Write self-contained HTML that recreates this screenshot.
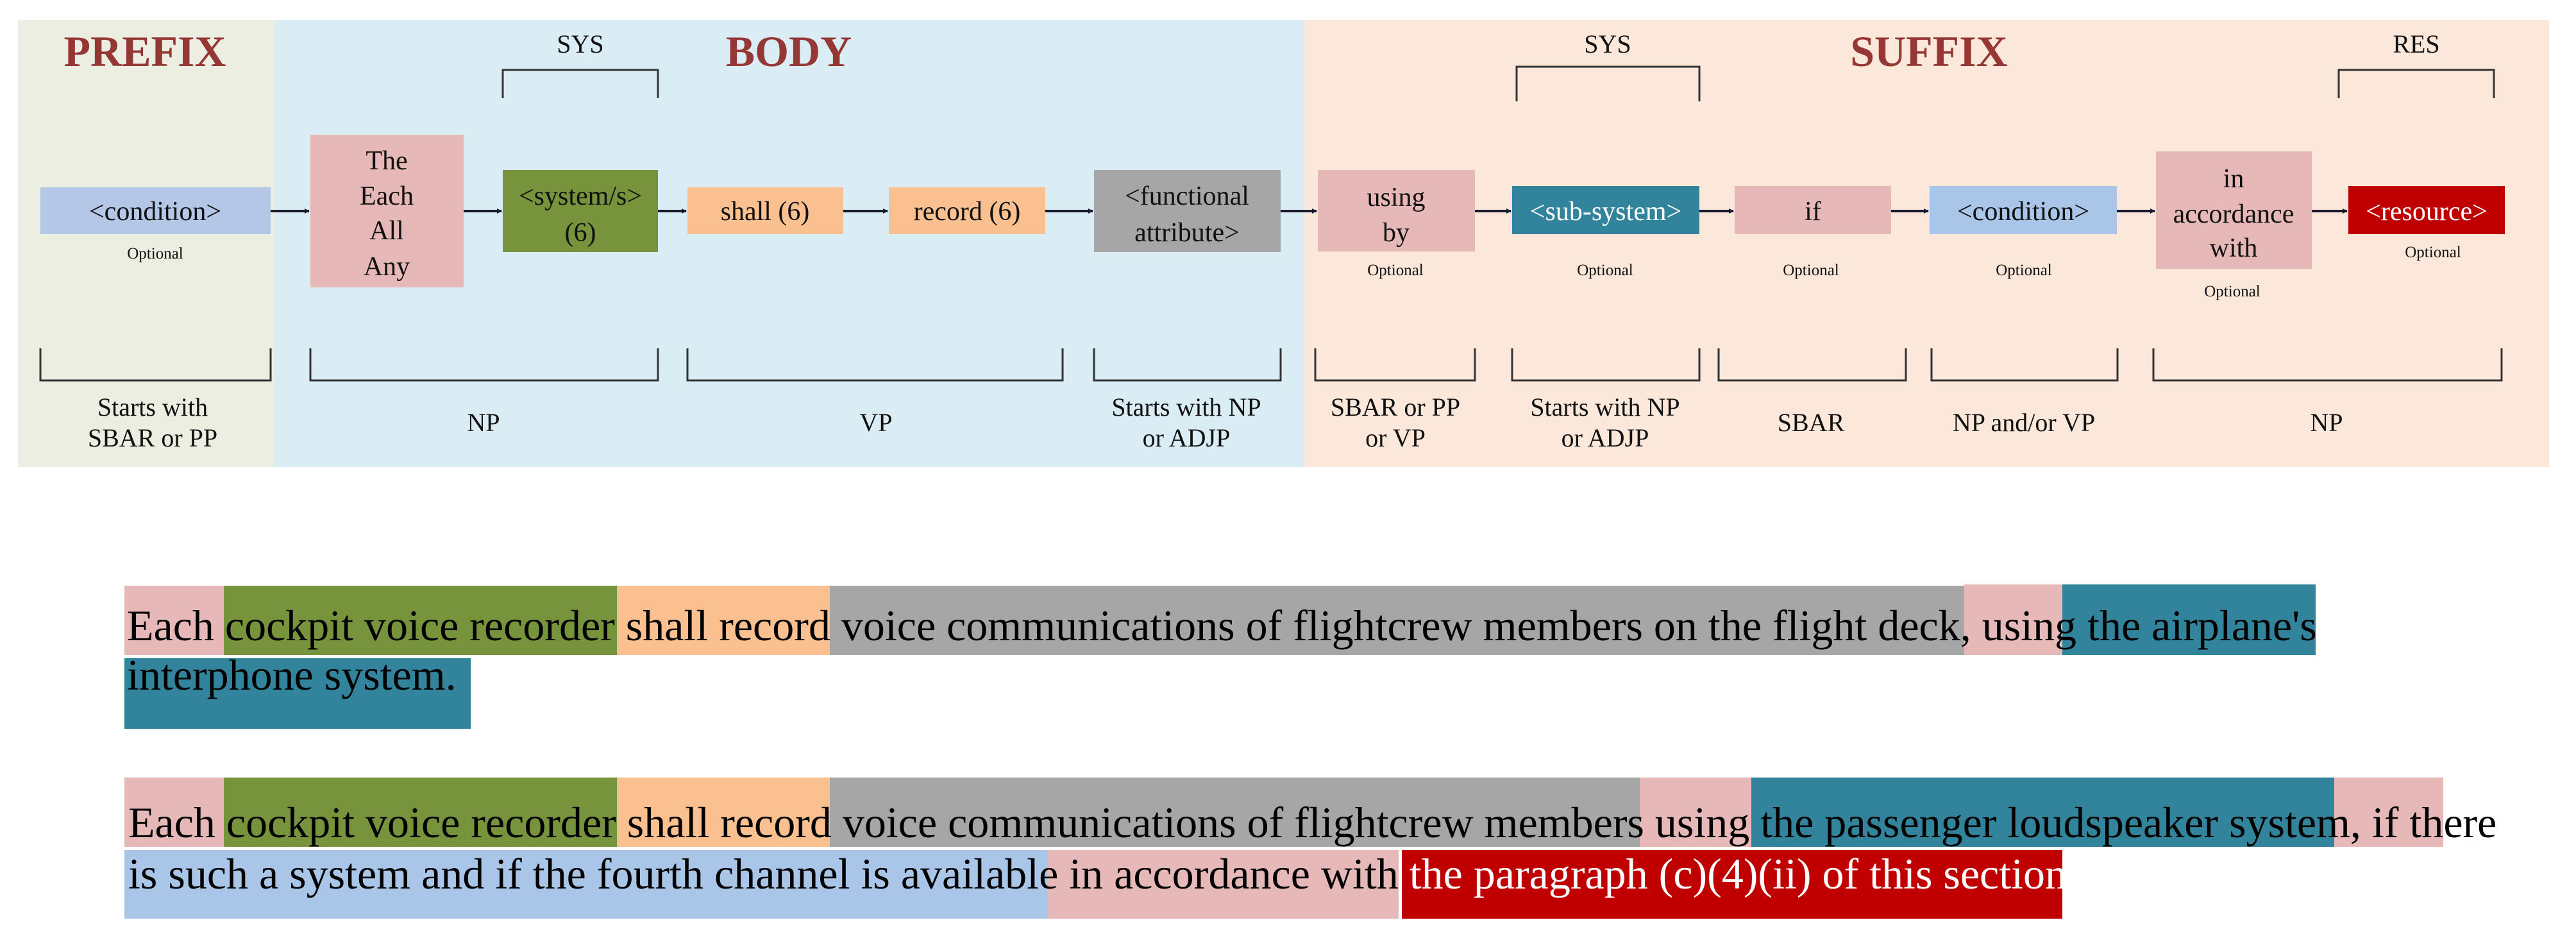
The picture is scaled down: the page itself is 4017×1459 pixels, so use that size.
<!DOCTYPE html>
<html><head><meta charset="utf-8">
<style>
html,body{margin:0;padding:0;background:#fff;width:4017px;height:1459px;overflow:hidden;position:relative;font-family:"Liberation Serif",serif}
.bg{position:absolute}
.t{position:absolute;font-size:68px;line-height:68px;white-space:nowrap;color:#000;font-family:"Liberation Serif",serif}
</style></head><body>
<svg width="4017" height="760" style="position:absolute;left:0;top:0" xmlns="http://www.w3.org/2000/svg" font-family="Liberation Serif, serif">
<defs><marker id="a" markerWidth="8" markerHeight="8" refX="7" refY="4" orient="auto" markerUnits="userSpaceOnUse"><path d="M0,0 L8,4 L0,8 z" fill="#1a1a2e"/></marker></defs>
<rect x="28" y="31" width="400" height="697" fill="#ebeee0"/>
<rect x="428" y="31" width="1606" height="697" fill="#dbedf4"/>
<rect x="2034" y="31" width="1941" height="697" fill="#fce8da"/>
<g font-weight="bold" fill="#953735" font-size="68" text-anchor="middle">
<text x="226" y="103">PREFIX</text><text x="1230" y="103">BODY</text><text x="3008" y="103">SUFFIX</text></g>
<g font-size="40" text-anchor="middle" fill="#111">
<text x="905" y="82">SYS</text><text x="2507" y="82">SYS</text><text x="3768" y="82">RES</text></g>
<g fill="none" stroke="#333" stroke-width="3">
<path d="M784,153 V109 H1026 V153"/><path d="M2365,158 V104 H2650 V158"/><path d="M3647,153 V109 H3889 V153"/>
<path d="M63,543 V593 H422 V543"/><path d="M484,543 V593 H1026 V543"/><path d="M1072,543 V593 H1657 V543"/><path d="M1706,543 V593 H1997 V543"/>
<path d="M2051,543 V593 H2300 V543"/><path d="M2358,543 V593 H2650 V543"/><path d="M2680,543 V593 H2972 V543"/><path d="M3012,543 V593 H3302 V543"/><path d="M3358,543 V593 H3901 V543"/>
</g>
<g stroke="#1a1a2e" stroke-width="4" marker-end="url(#a)">
<line x1="422" y1="329" x2="482" y2="329"/><line x1="723" y1="329" x2="782" y2="329"/><line x1="1026" y1="329" x2="1070" y2="329"/><line x1="1315" y1="329" x2="1384" y2="329"/><line x1="1630" y1="329" x2="1704" y2="329"/><line x1="1997" y1="329" x2="2053" y2="329"/><line x1="2300" y1="329" x2="2356" y2="329"/><line x1="2650" y1="329" x2="2703" y2="329"/><line x1="2949" y1="329" x2="3007" y2="329"/><line x1="3301" y1="329" x2="3360" y2="329"/><line x1="3605" y1="329" x2="3660" y2="329"/>
</g>
<rect x="63" y="292" width="359" height="73" fill="#b4c7e7"/>
<rect x="484" y="210" width="239" height="238" fill="#e6b9b8"/>
<rect x="784" y="265" width="242" height="128" fill="#77933c"/>
<rect x="1072" y="292" width="243" height="73" fill="#fac090"/>
<rect x="1386" y="292" width="244" height="73" fill="#fac090"/>
<rect x="1706" y="265" width="291" height="128" fill="#a6a6a6"/>
<rect x="2055" y="265" width="245" height="127" fill="#e6b9b8"/>
<rect x="2358" y="290" width="292" height="75" fill="#31849b"/>
<rect x="2705" y="290" width="244" height="75" fill="#e6b9b8"/>
<rect x="3009" y="290" width="292" height="75" fill="#a9c6e8"/>
<rect x="3362" y="236" width="243" height="183" fill="#e6b9b8"/>
<rect x="3662" y="290" width="244" height="75" fill="#c00000"/>
<g font-size="42" text-anchor="middle" fill="#111">
<text x="242" y="343">&lt;condition&gt;</text>
<text x="603" y="264">The</text><text x="603" y="319">Each</text><text x="603" y="373">All</text><text x="603" y="429">Any</text>
<text x="905" y="319">&lt;system/s&gt;</text><text x="905" y="376">(6)</text>
<text x="1193" y="343">shall (6)</text><text x="1508" y="343">record (6)</text>
<text x="1851" y="319">&lt;functional</text><text x="1851" y="376">attribute&gt;</text>
<text x="2177" y="321">using</text><text x="2177" y="376">by</text>
<text x="2504" y="343" fill="#fff">&lt;sub-system&gt;</text>
<text x="2827" y="343">if</text>
<text x="3155" y="343">&lt;condition&gt;</text>
<text x="3483" y="292">in</text><text x="3483" y="347">accordance</text><text x="3483" y="400">with</text>
<text x="3784" y="343" fill="#fff">&lt;resource&gt;</text>
</g>
<g font-size="25" text-anchor="middle" fill="#111">
<text x="242" y="403">Optional</text><text x="2176" y="429">Optional</text><text x="2503" y="429">Optional</text><text x="2824" y="429">Optional</text><text x="3156" y="429">Optional</text><text x="3481" y="462">Optional</text><text x="3794" y="401">Optional</text>
</g>
<g font-size="40" text-anchor="middle" fill="#111">
<text x="238" y="648">Starts with</text><text x="238" y="696">SBAR or PP</text>
<text x="754" y="672">NP</text><text x="1366" y="672">VP</text>
<text x="1850" y="648">Starts with NP</text><text x="1850" y="696">or ADJP</text>
<text x="2176" y="648">SBAR or PP</text><text x="2176" y="696">or VP</text>
<text x="2503" y="648">Starts with NP</text><text x="2503" y="696">or ADJP</text>
<text x="2824" y="672">SBAR</text><text x="3156" y="672">NP and/or VP</text><text x="3628" y="672">NP</text>
</g>
</svg>

<!-- Row 1 -->
<div class="bg" style="left:194px;top:913px;width:155px;height:108px;background:#e6b9b8"></div>
<div class="bg" style="left:349px;top:913px;width:613px;height:108px;background:#77933c"></div>
<div class="bg" style="left:962px;top:913px;width:332px;height:108px;background:#fac090"></div>
<div class="bg" style="left:1294px;top:913px;width:1769px;height:108px;background:#a6a6a6"></div>
<div class="bg" style="left:3063px;top:911px;width:153px;height:110px;background:#e6b9b8"></div>
<div class="bg" style="left:3216px;top:911px;width:395px;height:110px;background:#31849b"></div>
<div class="bg" style="left:194px;top:1026px;width:540px;height:110px;background:#31849b"></div>
<div class="t" style="left:198px;top:941px">Each cockpit voice recorder shall record voice communications of flightcrew members on the flight deck, using the airplane's</div>
<div class="t" style="left:198px;top:1018px">interphone system.</div>

<!-- Row 2 -->
<div class="bg" style="left:194px;top:1212px;width:155px;height:108px;background:#e6b9b8"></div>
<div class="bg" style="left:349px;top:1212px;width:613px;height:108px;background:#77933c"></div>
<div class="bg" style="left:962px;top:1212px;width:332px;height:108px;background:#fac090"></div>
<div class="bg" style="left:1294px;top:1212px;width:1263px;height:108px;background:#a6a6a6"></div>
<div class="bg" style="left:2557px;top:1212px;width:174px;height:108px;background:#e6b9b8"></div>
<div class="bg" style="left:2731px;top:1212px;width:909px;height:108px;background:#31849b"></div>
<div class="bg" style="left:3640px;top:1212px;width:170px;height:108px;background:#e6b9b8"></div>
<div class="bg" style="left:194px;top:1325px;width:1439px;height:107px;background:#a9c6e8"></div>
<div class="bg" style="left:1633px;top:1325px;width:548px;height:107px;background:#e6b9b8"></div>
<div class="bg" style="left:2186px;top:1325px;width:1030px;height:107px;background:#c00000"></div>
<div class="t" style="left:200px;top:1248px">Each cockpit voice recorder shall record voice communications of flightcrew members using the passenger loudspeaker system, if there</div>
<div class="t" style="left:200px;top:1328px">is such a system and if the fourth channel is available in accordance with <span style="color:#fff">the paragraph (c)(4)(ii) of this section.</span></div>
</body></html>
